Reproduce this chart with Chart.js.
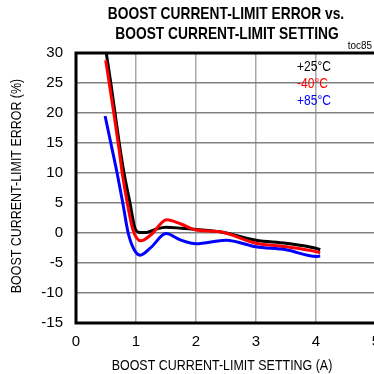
<!DOCTYPE html>
<html>
<head>
<meta charset="utf-8">
<script src="https://cdn.jsdelivr.net/npm/chart.js@4.4.1/dist/chart.umd.min.js"></script>
<style>
html,body{margin:0;padding:0;background:#fff;overflow:hidden;width:374px;height:374px;}
canvas{display:block;}
</style>
</head>
<body>
<canvas id="c" width="380" height="374"></canvas>
<script>
const titleLines = ["BOOST CURRENT-LIMIT ERROR vs.", "BOOST CURRENT-LIMIT SETTING"];
const xTitle = "BOOST CURRENT-LIMIT SETTING (A)";
const yTitle = "BOOST CURRENT-LIMIT ERROR (%)";
const tocLabel = "toc85";
const seriesNames = ["+25°C", "-40°C", "+85°C"];
const seriesColors = ["#000000", "#ff0000", "#0000ff"];
const xTicks = [0, 1, 2, 3, 4, 5];
const yTicks = [30, 25, 20, 15, 10, 5, 0, -5, -10, -15];

const x25 = [0.50, 0.58, 0.65, 0.72, 0.80, 0.90, 0.98, 1.06, 1.18, 1.35, 1.51, 1.75, 2.0, 2.4, 3.0, 3.5, 4.0, 4.07];
const y25 = [30.3, 25, 20, 15, 10, 5, 0.9, 0.1, 0.1, 0.7, 0.95, 0.8, 0.6, 0.2, -1.2, -1.7, -2.55, -2.8];

const xm40 = [0.495, 0.63, 0.72, 0.77, 0.855, 0.95, 1.08, 1.25, 1.51, 1.75, 2.0, 2.4, 3.0, 3.5, 4.0, 4.07];
const ym40 = [28.8, 20, 13.8, 10, 5, 0.5, -1.3, -0.3, 2.2, 1.5, 0.5, 0.2, -1.7, -2.3, -3.1, -3.3];

const x85 = [0.485, 0.58, 0.685, 0.78, 0.87, 0.97, 1.07, 1.25, 1.5, 1.75, 2.0, 2.5, 3.0, 3.5, 4.0, 4.07];
const y85 = [19.5, 15, 10, 5, 0, -2.8, -3.7, -2.4, -0.1, -1.2, -1.8, -1.2, -2.3, -2.8, -3.9, -3.85];

const FONT = "'Liberation Sans',Arial,sans-serif";

function pts(xs, ys){ return xs.map((x,i)=>({x:x, y:ys[i]})); }

function squeezeText(ctx, text, x, y, sx, align){
  ctx.save();
  ctx.translate(x, y);
  ctx.scale(sx, 1);
  ctx.textAlign = align;
  ctx.fillText(text, 0, 0);
  ctx.restore();
}

const overlay = {
  id: 'overlay',
  afterDatasetsDraw(chart){
    const ctx = chart.ctx, a = chart.chartArea;
    ctx.save();
    ctx.strokeStyle = '#000'; ctx.lineWidth = 3;
    ctx.beginPath();
    ctx.moveTo(a.right+2, a.top); ctx.lineTo(a.left, a.top);
    ctx.lineTo(a.left, a.bottom); ctx.lineTo(a.right+2, a.bottom);
    ctx.stroke();
    ctx.fillStyle = '#000';
    ctx.textBaseline = 'middle';
    ctx.font = "bold 17px " + FONT;
    squeezeText(ctx, titleLines[0], 226, 14, 0.81, 'center');
    squeezeText(ctx, titleLines[1], 227, 34, 0.81, 'center');
    ctx.font = "11px " + FONT;
    squeezeText(ctx, tocLabel, 372, 46, 0.9, 'right');
    ctx.font = "14px " + FONT;
    const ly = [67, 84, 101];
    seriesNames.forEach((n,i)=>{ ctx.fillStyle = seriesColors[i]; squeezeText(ctx, n, 297, ly[i], 0.86, 'left'); });
    ctx.fillStyle = '#000';
    ctx.font = "15px " + FONT;
    squeezeText(ctx, xTitle, 222, 366, 0.83, 'center');
    ctx.translate(17, 186);
    ctx.rotate(-Math.PI/2);
    squeezeText(ctx, yTitle, 0, 0, 0.83, 'center');
    ctx.restore();
  }
};

const ds = [
  {label: seriesNames[0], data: pts(x25, y25), borderColor: seriesColors[0], order: 3},
  {label: seriesNames[1], data: pts(xm40, ym40), borderColor: seriesColors[1], order: 2},
  {label: seriesNames[2], data: pts(x85, y85), borderColor: seriesColors[2], order: 1}
].map(d => Object.assign(d, {borderWidth: 3, pointRadius: 0, cubicInterpolationMode: 'monotone', fill: false, showLine: true}));

new Chart(document.getElementById('c'), {
  type: 'scatter',
  data: {datasets: ds},
  options: {
    responsive: false,
    animation: false,
    devicePixelRatio: 1,
    layout: {autoPadding: false, padding: {left: 0, top: 53, right: 4, bottom: 0}},
    plugins: {legend: {display: false}, title: {display: false}, tooltip: {enabled: false}},
    scales: {
      x: {
        type: 'linear', min: 0, max: 5,
        afterFit: s => { s.height = 51; s.paddingLeft = 0; s.paddingRight = 0; },
        afterBuildTicks: s => { s.ticks = xTicks.map(v => ({value: v})); },
        grid: {color: '#a8a8a8', lineWidth: 1.5, drawTicks: false},
        border: {display: false},
        ticks: {color: '#000', padding: 10, font: {family: FONT, size: 15}, maxRotation: 0, autoSkip: false}
      },
      y: {
        type: 'linear', min: -15, max: 30,
        afterFit: s => { s.width = 76; s.paddingTop = 0; s.paddingBottom = 0; },
        afterBuildTicks: s => { s.ticks = yTicks.map(v => ({value: v})); },
        grid: {color: '#808080', lineWidth: 1.5, drawTicks: false},
        border: {display: false},
        ticks: {color: '#000', padding: 13, font: {family: FONT, size: 15}, autoSkip: false}
      }
    }
  },
  plugins: [overlay]
});
</script>
</body>
</html>
